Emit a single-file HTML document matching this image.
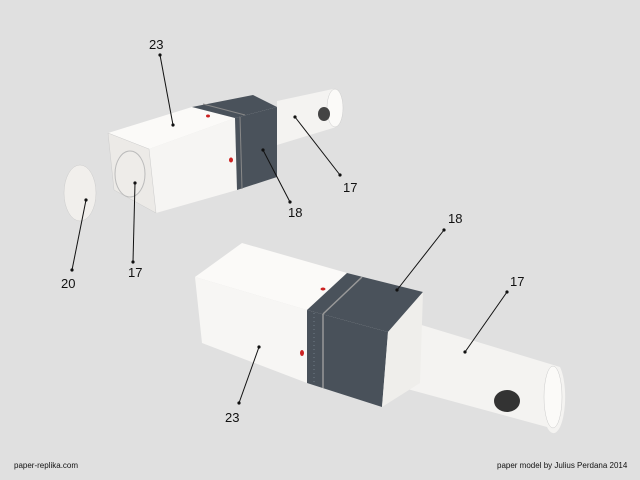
<!DOCTYPE html>
<html><head><style>
html,body{margin:0;padding:0;background:#e0e0e0;}
svg{display:block}
text{font-family:"Liberation Sans",sans-serif;fill:#111}
</style></head><body>
<svg width="640" height="480" viewBox="0 0 640 480">
<rect width="640" height="480" fill="#e0e0e0"/>
<!-- top object -->
<path d="M277,101 L333,89 A8,19 0 0 1 333,128 L277,145 Z" fill="#f4f3f1"/>
<ellipse cx="335" cy="108" rx="8" ry="19" fill="#fbfaf8" stroke="#ccc" stroke-width="0.5"/>
<ellipse cx="324" cy="114" rx="6" ry="7" fill="#444"/>
<polygon points="108,133 192,107 235,118 149,149" fill="#fbfaf8"/>
<polygon points="192,107 253,95 277,107 235,118" fill="#4a525b"/>
<polygon points="149,149 235,118 237,190 156,213" fill="#f6f5f3"/>
<polygon points="235,118 277,107 277,177 237,190" fill="#4a525b"/>
<line x1="240" y1="117" x2="242" y2="189" stroke="#888" stroke-width="1"/>
<line x1="203" y1="104" x2="245" y2="115" stroke="#888" stroke-width="1"/>
<polygon points="108,133 149,149 156,213 114,190" fill="#eceae7" stroke="#ccc" stroke-width="0.5"/>
<ellipse cx="130" cy="174" rx="15" ry="23" fill="#eeece9" stroke="#bbb" stroke-width="1"/>
<ellipse cx="208" cy="116" rx="2" ry="1.5" fill="#c22"/>
<ellipse cx="231" cy="160" rx="2" ry="2.5" fill="#c22"/>
<ellipse cx="80" cy="193" rx="16" ry="28" fill="#f1efec" stroke="#ccc" stroke-width="0.5"/>
<!-- bottom object -->
<path d="M405,320 L560,367 A10,31 0 0 1 547,427 L400,387 Z" fill="#f4f3f1"/>
<ellipse cx="553" cy="397" rx="9" ry="31" fill="#fbfaf8" stroke="#ccc" stroke-width="0.5"/>
<ellipse cx="507" cy="401" rx="13" ry="11" fill="#333"/>
<polygon points="195,277 242,243 347,273 307,310" fill="#fbfaf8"/>
<polygon points="347,273 423,292 388,332 307,310" fill="#4a525b"/>
<polygon points="195,277 307,310 307,383 202,343" fill="#f7f6f4"/>
<polygon points="307,310 388,332 382,407 307,383" fill="#49515a"/>
<polygon points="388,332 423,292 420,383 382,407" fill="#efeeeb"/>
<line x1="323" y1="314" x2="323" y2="388" stroke="#999" stroke-width="1.5"/>
<line x1="323" y1="314" x2="362" y2="277" stroke="#999" stroke-width="1.5"/>
<line x1="314" y1="313" x2="314" y2="384" stroke="#7b8590" stroke-width="0.8" stroke-dasharray="1,3"/>
<ellipse cx="323" cy="289" rx="2.5" ry="1.5" fill="#c22"/>
<ellipse cx="302" cy="353" rx="2" ry="3" fill="#c22"/>
<!-- leaders -->
<g stroke="#111" stroke-width="1">
<line x1="160" y1="55" x2="173" y2="125"/>
<line x1="295" y1="117" x2="340" y2="175"/>
<line x1="263" y1="150" x2="290" y2="202"/>
<line x1="135" y1="183" x2="133" y2="262"/>
<line x1="86" y1="200" x2="72" y2="270"/>
<line x1="444" y1="230" x2="397" y2="290"/>
<line x1="507" y1="292" x2="465" y2="352"/>
<line x1="259" y1="347" x2="239" y2="403"/>
</g>
<g fill="#111">
<circle cx="160" cy="55" r="1.6"/><circle cx="173" cy="125" r="1.6"/>
<circle cx="295" cy="117" r="1.6"/><circle cx="340" cy="175" r="1.6"/>
<circle cx="263" cy="150" r="1.6"/><circle cx="290" cy="202" r="1.6"/>
<circle cx="135" cy="183" r="1.6"/><circle cx="133" cy="262" r="1.6"/>
<circle cx="86" cy="200" r="1.6"/><circle cx="72" cy="270" r="1.6"/>
<circle cx="444" cy="230" r="1.6"/><circle cx="397" cy="290" r="1.6"/>
<circle cx="507" cy="292" r="1.6"/><circle cx="465" cy="352" r="1.6"/>
<circle cx="259" cy="347" r="1.6"/><circle cx="239" cy="403" r="1.6"/>
</g>
<g font-size="13">
<text x="149" y="49">23</text>
<text x="343" y="192">17</text>
<text x="288" y="217">18</text>
<text x="128" y="277">17</text>
<text x="61" y="288">20</text>
<text x="448" y="223">18</text>
<text x="510" y="286">17</text>
<text x="225" y="422">23</text>
</g>
<text x="14" y="468" font-size="8">paper-replika.com</text>
<text x="497" y="468" font-size="8">paper model by Julius Perdana 2014</text>
</svg>
</body></html>
